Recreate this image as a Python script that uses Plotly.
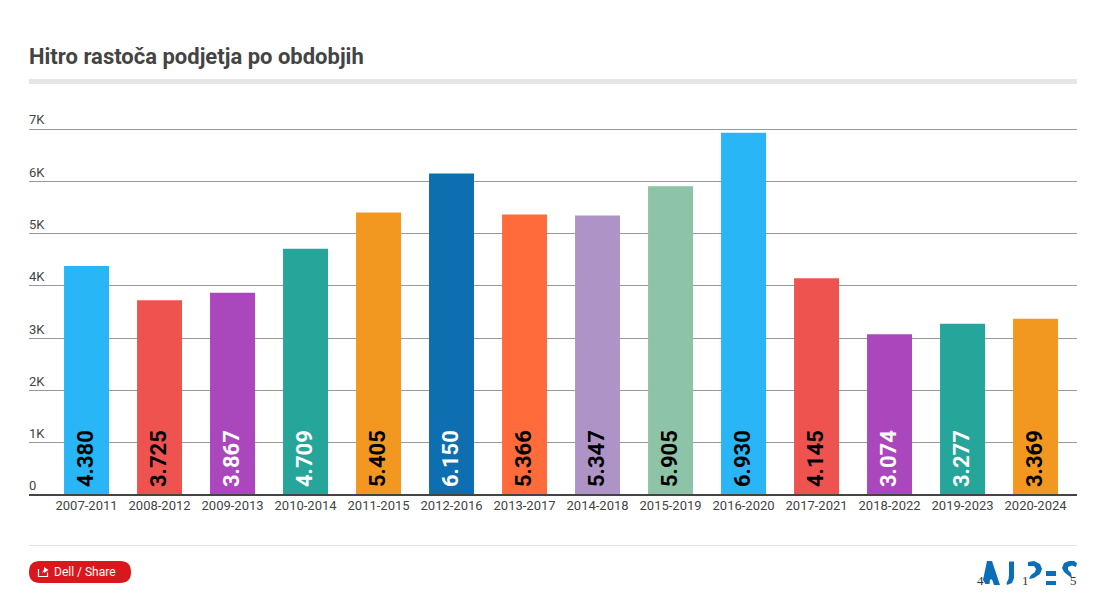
import plotly.graph_objects as go

categories = ["2007-2011","2008-2012","2009-2013","2010-2014","2011-2015","2012-2016","2013-2017",
              "2014-2018","2015-2019","2016-2020","2017-2021","2018-2022","2019-2023","2020-2024"]
values = [4380,3725,3867,4709,5405,6150,5366,5347,5905,6930,4145,3074,3277,3369]
labels = ["4.380","3.725","3.867","4.709","5.405","6.150","5.366","5.347","5.905","6.930","4.145","3.074","3.277","3.369"]
colors = ["#29B6F6","#EF5350","#AB47BC","#26A69A","#F2971F","#0D6EB0","#FF6B3A","#AD93C6","#8DC3A7",
          "#29B6F6","#EF5350","#AB47BC","#26A69A","#F2971F"]
label_colors = ["#000","#000","#fff","#fff","#000","#fff","#000","#000","#000","#000","#000","#fff","#fff","#000"]
y_ticks = [0,1000,2000,3000,4000,5000,6000,7000]
y_tick_labels = ["0","1K","2K","3K","4K","5K","6K","7K"]
title = "Hitro rastoča podjetja po obdobjih"

W, H = 1105, 600
px = lambda x: x / W
py = lambda y: 1 - y / H

def path(points):
    return "M " + " L ".join(f"{px(x):.5f},{py(y):.5f}" for x, y in points) + " Z"

def rrect(x0, y0, x1, y1, r):
    X0, X1, Y0, Y1 = px(x0), px(x1), py(y0), py(y1)
    rx, ry = r / W, r / H
    return (f"M {X0+rx:.5f},{Y0:.5f} L {X1-rx:.5f},{Y0:.5f} Q {X1:.5f},{Y0:.5f} {X1:.5f},{Y0-ry:.5f} "
            f"L {X1:.5f},{Y1+ry:.5f} Q {X1:.5f},{Y1:.5f} {X1-rx:.5f},{Y1:.5f} L {X0+rx:.5f},{Y1:.5f} "
            f"Q {X0:.5f},{Y1:.5f} {X0:.5f},{Y1+ry:.5f} L {X0:.5f},{Y0-ry:.5f} Q {X0:.5f},{Y0:.5f} {X0+rx:.5f},{Y0:.5f} Z")

def rect(x0, y0, x1, y1, color, layer="below"):
    return dict(type="rect", xref="paper", yref="paper", x0=px(x0), x1=px(x1), y0=py(y0), y1=py(y1),
                fillcolor=color, line_width=0, layer=layer)

def blob(d, color):
    return dict(type="path", xref="paper", yref="paper", path=d, fillcolor=color, line_width=0)

logo = "#0B6FB8"
shapes = [
    rect(29, 79, 1077, 84, "#E6E6E6"),
    rect(29, 545, 1077, 546, "#E3E3E3"),
    rect(29, 494, 1077, 496, "#444444", "above"),
    blob(rrect(29, 561, 131, 583, 11), "#D8181C"),
    # share icon
    dict(type="path", xref="paper", yref="paper",
         path=path([(38.5, 569), (38.5, 576.5), (47.5, 576.5), (47.5, 572.5), (47.5, 576.5), (38.5, 576.5)]),
         line=dict(color="#fff", width=1.2), fillcolor="rgba(0,0,0,0)"),
    blob(path([(42, 573), (44, 569.5), (44, 567), (48.5, 570), (44, 573), (44, 571.5)]), "#fff"),
    # logo: A
    blob(path([(987, 561), (992, 561), (1000, 585), (994, 585), (992, 579.5), (990, 579.5), (989.5, 584), (985.5, 584), (983, 580)]), logo),
    # J
    blob(path([(1009, 561.5), (1014, 561.5), (1014, 578), (1012, 583), (1007, 585), (1006.5, 583), (1008.5, 579), (1009, 575)]), logo),
    # P bowl
    blob(path([(1028, 562), (1034, 561), (1040, 564), (1042, 569), (1040, 574), (1034, 578), (1029, 579),
               (1031, 575), (1035, 572), (1036, 569), (1034, 566), (1028, 566)]), logo),
    # =
    blob(path([(1046, 571), (1056, 571), (1056, 576), (1046, 576)]), logo),
    blob(path([(1046, 581), (1056, 581), (1056, 585), (1046, 585)]), logo),
    # S top
    blob(path([(1076, 567), (1072, 565.5), (1068, 567), (1068, 570), (1071, 573), (1072, 578), (1069, 576), (1064, 572), (1062, 568), (1064, 563),
               (1069, 561), (1074, 561), (1077, 563)]), logo),
]

annotations = [
    dict(text="Dell / Share", xref="paper", yref="paper", x=px(52), y=py(571.5), xanchor="left", yanchor="middle",
         showarrow=False, font=dict(family="Roboto", size=12, color="#fff")),
]
for ch, x in (("4", 980.5), ("1", 1025.5), ("5", 1073.5)):
    annotations.append(dict(text=ch, xref="paper", yref="paper", x=px(x), y=py(580.5), xanchor="center", yanchor="middle",
                            showarrow=False, font=dict(family="Liberation Serif", size=13, color="#333")))
for c, lab, col in zip(categories, labels, label_colors):
    annotations.append(dict(text=lab, x=c, y=0, xref="x", yref="y", yanchor="bottom", xanchor="center", textangle=-90,
                            showarrow=False, yshift=6, xshift=-1,
                            font=dict(family="Roboto", size=22, color=col, weight="bold")))

fig = go.Figure(go.Bar(
    x=categories, y=values, marker=dict(color=colors, line_width=0),
    hoverinfo="x+y", width=0.616,
))
fig.update_layout(
    width=W, height=H, margin=dict(l=0, r=0, t=0, b=0), paper_bgcolor="#fff", plot_bgcolor="#fff",
    showlegend=False, shapes=shapes, annotations=annotations,
    title=dict(text=title, x=px(29), xanchor="left", y=py(56), yanchor="middle",
               font=dict(family="Roboto", size=22, color="#444", weight="bold")),
    font=dict(family="Roboto"),
    xaxis=dict(domain=[px(29), px(1077)], range=[-0.788, 13.568], type="category", showgrid=False, ticks="",
               showline=False, tickfont=dict(size=13, color="#444"), tickangle=0, ticklabelstandoff=1),
    yaxis=dict(domain=[py(495), py(92.4)], range=[0, 7700], tickvals=y_ticks, ticktext=y_tick_labels, showgrid=True,
               gridcolor="#999", gridwidth=1, ticklabelposition="inside top", ticklabelstandoff=-3, tickfont=dict(size=13, color="#444"),
               zeroline=False, showline=False, ticks=""),
)
fig.write_html("out.html", post_script="document.body.style.margin='0';", config={"displayModeBar": False})
